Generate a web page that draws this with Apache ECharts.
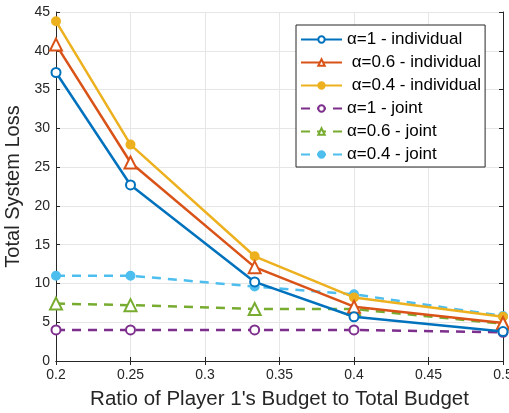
<!doctype html>
<html>
<head>
<meta charset="UTF-8">
<title></title>
<script src="https://cdn.jsdelivr.net/npm/echarts@6/dist/echarts.min.js"></script>
<style>
  html, body { margin: 0; padding: 0; background: #fff; }
  #chart { width: 509px; height: 413px; }
</style>
</head>
<body>
<div id="chart"></div>
<script>
  // x positions (ratio of player 1's budget)
  var ratio = [0.2, 0.25, 1 / 3, 0.4, 0.5];
  var names = ['α=1 - individual', ' α=0.6 - individual', ' α=0.4 - individual',
               'α=1 - joint', 'α=0.6 - joint', 'α=0.4 - joint'];
  var ind1 = [37.2, 22.7, 10.2, 5.7, 3.8];
  var ind06 = [40.8, 25.6, 12.1, 7.0, 4.9];
  var ind04 = [43.8, 27.9, 13.5, 8.2, 5.7];
  var joint1 = [4.0, 4.0, 4.0, 4.0, 3.7];
  var joint06 = [7.4, 7.2, 6.7, 6.7, 4.8];
  var joint04 = [11.0, 11.0, 9.6, 8.6, 5.8];

  var colors = ['#0072BD', '#D95319', '#EDB120', '#7E2F8E', '#77AC30', '#4DBEEE'];

  function pairs(ys) {
    var out = [];
    for (var i = 0; i < ratio.length; i++) out.push([ratio[i], ys[i]]);
    return out;
  }
  function line(idx, ys, symbol, size, dashed) {
    return {
      name: names[idx],
      type: 'line',
      data: pairs(ys),
      symbol: symbol,
      symbolSize: size,
      showAllSymbol: true,
      lineStyle: { color: colors[idx], width: 2.5, type: dashed ? [9, 7] : 'solid' },
      itemStyle: { color: colors[idx], borderColor: colors[idx], borderWidth: 2 },
      emphasis: { disabled: true },
      z: 10 - idx
    };
  }

  var axisCol = '#262626';
  var font = 'Liberation Sans, Arial';
  var chart = echarts.init(document.getElementById('chart'));
  chart.setOption({
    animation: false,
    color: colors,
    grid: { left: 56, right: 6, top: 12, bottom: 52, containLabel: false, outerBoundsMode: 'none' },
    legend: {
      orient: 'vertical',
      left: 296, top: 25,
      backgroundColor: '#fff',
      borderColor: axisCol,
      borderWidth: 1,
      padding: [6, 4, 4, 4],
      itemWidth: 41, itemHeight: 8, itemGap: 6,
      textStyle: { fontFamily: font, fontSize: 17, lineHeight: 17, color: '#000' },
      data: names
    },
    xAxis: [{
      type: 'value', min: 0.2, max: 0.5, interval: 0.05,
      name: "Ratio of Player 1's Budget to Total Budget",
      nameLocation: 'middle', nameGap: 28,
      nameTextStyle: { fontFamily: font, fontSize: 20.5, color: axisCol },
      axisLine: { lineStyle: { color: axisCol, width: 1 } },
      axisTick: { inside: true, length: 4, lineStyle: { color: axisCol } },
      axisLabel: { color: axisCol, fontSize: 14, fontFamily: font, margin: 7,
        formatter: function (v) { return String(+v.toFixed(2)); } },
      splitLine: { show: true, lineStyle: { color: '#e6e6e6', width: 1 } }
    }, {
      type: 'value', min: 0.2, max: 0.5, interval: 0.05, position: 'top',
      axisLine: { show: true, lineStyle: { color: axisCol, width: 1 } },
      axisTick: { show: true, inside: true, length: 4, lineStyle: { color: axisCol } },
      axisLabel: { show: false },
      splitLine: { show: false }
    }],
    yAxis: [{
      type: 'value', min: 0, max: 45, interval: 5,
      name: 'Total System Loss',
      nameLocation: 'middle', nameGap: 23,
      nameTextStyle: { fontFamily: font, fontSize: 20, color: axisCol },
      axisLine: { show: true, lineStyle: { color: axisCol, width: 1 } },
      axisTick: { show: true, inside: true, length: 4, lineStyle: { color: axisCol } },
      axisLabel: { color: axisCol, fontSize: 14, fontFamily: font, margin: 6 },
      splitLine: { show: true, lineStyle: { color: '#e6e6e6', width: 1 } }
    }, {
      type: 'value', min: 0, max: 45, interval: 5, position: 'right',
      axisLine: { show: true, lineStyle: { color: axisCol, width: 1 } },
      axisTick: { show: true, inside: true, length: 4, lineStyle: { color: axisCol } },
      axisLabel: { show: false },
      splitLine: { show: false }
    }],
    series: [
      line(0, ind1, 'emptyCircle', 9, false),
      line(1, ind06, 'emptyTriangle', 12, false),
      line(2, ind04, 'circle', 8, false),
      line(3, joint1, 'emptyCircle', 9, true),
      line(4, joint06, 'emptyTriangle', 12, true),
      line(5, joint04, 'circle', 8, true)
    ]
  });
</script>
</body>
</html>
